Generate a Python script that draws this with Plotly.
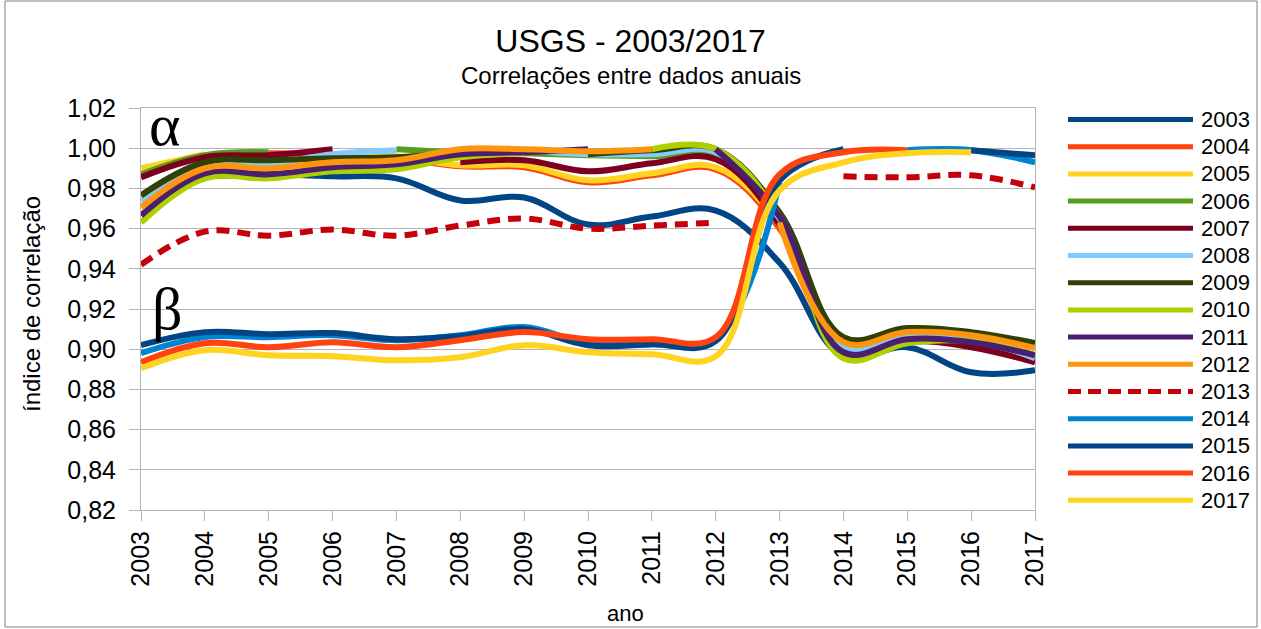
import plotly.graph_objects as go

# Correlações anuais (USGS 2003-2017); cada série = correlação de um ano com os demais
years = list(range(2003, 2018))
tick_labels = [str(y) for y in years]

series_names = [str(y) for y in years]
colors = ["#004586", "#ff420e", "#ffd320", "#579d1c", "#7e0021", "#83caff", "#314004",
          "#aecf00", "#4b1f6f", "#ff950e", "#c5000b", "#0084d1", "#004586", "#ff420e", "#ffd320"]

c2003 = [None, 0.986, 0.987, 0.986, 0.985, 0.974, 0.9755, 0.962, 0.966, 0.969, 0.943, 0.8965, 0.901, 0.8885, 0.8895]
c2004 = [0.990, None, 0.9975, 0.997, 0.995, 0.991, 0.9905, 0.983, 0.9865, 0.9895, 0.960, 0.899, 0.904, 0.902, 0.895]
c2005 = [0.990, 0.997, None, 0.997, 0.996, 0.9915, 0.9915, 0.984, 0.9875, 0.9905, 0.962, 0.900, 0.905, 0.903, 0.896]
c2006 = [0.987, 0.9965, 0.998, None, 0.9995, 0.998, 0.9975, 0.9965, 0.996, 0.996, 0.965, 0.900, 0.905, 0.904, 0.897]
c2007 = [0.9855, 0.9955, 0.9965, 0.9995, None, 0.993, 0.994, 0.9885, 0.9925, 0.9945, 0.962, 0.898, 0.904, 0.901, 0.8935]
c2008 = [0.974, 0.990, 0.992, 0.997, 0.999, None, 0.999, 0.997, 0.997, 0.998, 0.965, 0.9015, 0.906, 0.905, 0.8955]
c2009 = [0.9765, 0.993, 0.994, 0.995, 0.9955, 0.998, None, 0.997, 0.999, 0.9995, 0.968, 0.906, 0.9105, 0.9085, 0.903]
c2010 = [0.963, 0.985, 0.985, 0.9885, 0.9895, 0.9955, 0.9975, None, 0.9995, 0.9995, 0.966, 0.8955, 0.903, 0.904, 0.897]
c2011 = [0.9665, 0.9875, 0.987, 0.9905, 0.992, 0.997, 0.998, 0.9995, None, 0.9995, 0.966, 0.8985, 0.905, 0.9035, 0.897]
c2012 = [0.9705, 0.990, 0.990, 0.993, 0.994, 0.9995, 0.9995, 0.9985, 0.9995, None, 0.963, 0.9035, 0.9085, 0.907, 0.9005]
c2013 = [0.942, 0.9585, 0.9565, 0.9595, 0.9565, 0.9615, 0.965, 0.960, 0.9615, 0.963, None, 0.986, 0.9855, 0.9865, 0.9805]
c2014 = [0.898, 0.906, 0.906, 0.907, 0.9045, 0.907, 0.911, 0.903, 0.9025, 0.905, 0.983, None, 0.999, 0.999, 0.993]
c2015 = [0.902, 0.9085, 0.9075, 0.908, 0.905, 0.9065, 0.910, 0.902, 0.9025, 0.904, 0.984, 0.9995, None, 0.999, 0.9965]
c2016 = [0.8935, 0.903, 0.901, 0.9035, 0.901, 0.9045, 0.9085, 0.905, 0.905, 0.906, 0.987, 0.998, 0.999, None, 0.998]
c2017 = [0.8905, 0.8995, 0.897, 0.8965, 0.8945, 0.896, 0.902, 0.8985, 0.8975, 0.8965, 0.979, 0.993, 0.9975, 0.998, None]

all_series = [c2003, c2004, c2005, c2006, c2007, c2008, c2009, c2010,
              c2011, c2012, c2013, c2014, c2015, c2016, c2017]

FONT = "Liberation Sans"
GRID = "#b3b3b3"

# plot area in pixels (for placing the legend/labels in paper coords)
L, R, T, B = 141, 1035, 108, 510
W, H = 1261, 629


def px_x(x):
    return (x - L) / (R - L)


def px_y(y):
    return (B - y) / (B - T)


fig = go.Figure()

for name, vals, col in zip(series_names, all_series, colors):
    dash = "13px,8px" if name == "2013" else "solid"
    fig.add_trace(go.Scatter(
        x=years, y=vals,
        mode="lines",
        name=name,
        line=dict(color=col, width=6, shape="spline", smoothing=1.1, dash=dash),
        connectgaps=False,
        showlegend=False,
    ))

# legend drawn by hand, LibreOffice style (long line samples)
shapes = []
annotations = []
for i, (name, col) in enumerate(zip(series_names, colors)):
    yy = px_y(119.5 + 27.2 * i)
    shapes.append(dict(
        type="line", xref="paper", yref="paper",
        x0=px_x(1068), x1=px_x(1193), y0=yy, y1=yy,
        line=dict(color=col, width=5, dash="13px,7px" if name == "2013" else "solid"),
    ))
    annotations.append(dict(
        text=name, xref="paper", yref="paper", x=px_x(1199), y=yy,
        xanchor="left", yanchor="middle", showarrow=False,
        font=dict(family=FONT, size=22, color="black"),
    ))

# outer frame of the chart
shapes.append(dict(
    type="rect", xref="paper", yref="paper",
    x0=px_x(5), x1=px_x(1257), y0=px_y(627), y1=px_y(1),
    line=dict(color="#808080", width=1), fillcolor="rgba(0,0,0,0)", layer="below",
))

annotations += [
    dict(text="Correlações entre dados anuais", xref="paper", yref="paper",
         x=px_x(631), y=px_y(75), xanchor="center", yanchor="middle", showarrow=False,
         font=dict(family=FONT, size=24, color="black")),
    dict(text="ano", xref="paper", yref="paper",
         x=px_x(625), y=px_y(613), xanchor="center", yanchor="middle", showarrow=False,
         font=dict(family=FONT, size=22, color="black")),
    dict(text="índice de correlação", xref="paper", yref="paper", textangle=-90,
         x=px_x(31), y=px_y(304), xanchor="center", yanchor="middle", showarrow=False,
         font=dict(family=FONT, size=24, color="black")),
    dict(text="α", xref="paper", yref="paper",
         x=px_x(164), y=px_y(125), xanchor="center", yanchor="middle", showarrow=False,
         font=dict(family="Liberation Serif", size=60, color="black")),
    dict(text="β", xref="paper", yref="paper",
         x=px_x(167), y=px_y(309), xanchor="center", yanchor="middle", showarrow=False,
         font=dict(family="Liberation Serif", size=60, color="black")),
]

fig.update_layout(
    width=W, height=H,
    margin=dict(l=L, r=W - R, t=T, b=H - B),
    paper_bgcolor="white", plot_bgcolor="white",
    separators=", ",
    title=dict(text="USGS - 2003/2017", x=0.5, xref="container", xanchor="center",
               y=1 - 41 / H, yref="container", yanchor="middle",
               font=dict(family=FONT, size=32, color="black")),
    shapes=shapes,
    annotations=annotations,
    showlegend=False,
)

fig.update_xaxes(
    range=[2003, 2017],
    tickmode="array", tickvals=years, ticktext=tick_labels,
    tickangle=-90,
    tickfont=dict(family=FONT, size=25, color="black"),
    showgrid=False, zeroline=False,
    showline=True, linecolor=GRID, linewidth=1, mirror=True,
    ticks="outside", ticklen=10, tickcolor=GRID,
)

fig.update_yaxes(
    range=[0.82, 1.02], dtick=0.02, tick0=0.82, tickformat=".2f",
    tickfont=dict(family=FONT, size=25, color="black"),
    showgrid=True, gridcolor=GRID, gridwidth=1, zeroline=False,
    showline=True, linecolor=GRID, linewidth=1, mirror=True,
    ticks="outside", ticklen=11, tickcolor=GRID,
    ticklabelstandoff=8,
)

# the page body has a default 8px margin; remove it so the figure fills the window
fig.write_html("out.html", config={"displayModeBar": False},
               post_script="document.body.style.margin = '0';")
